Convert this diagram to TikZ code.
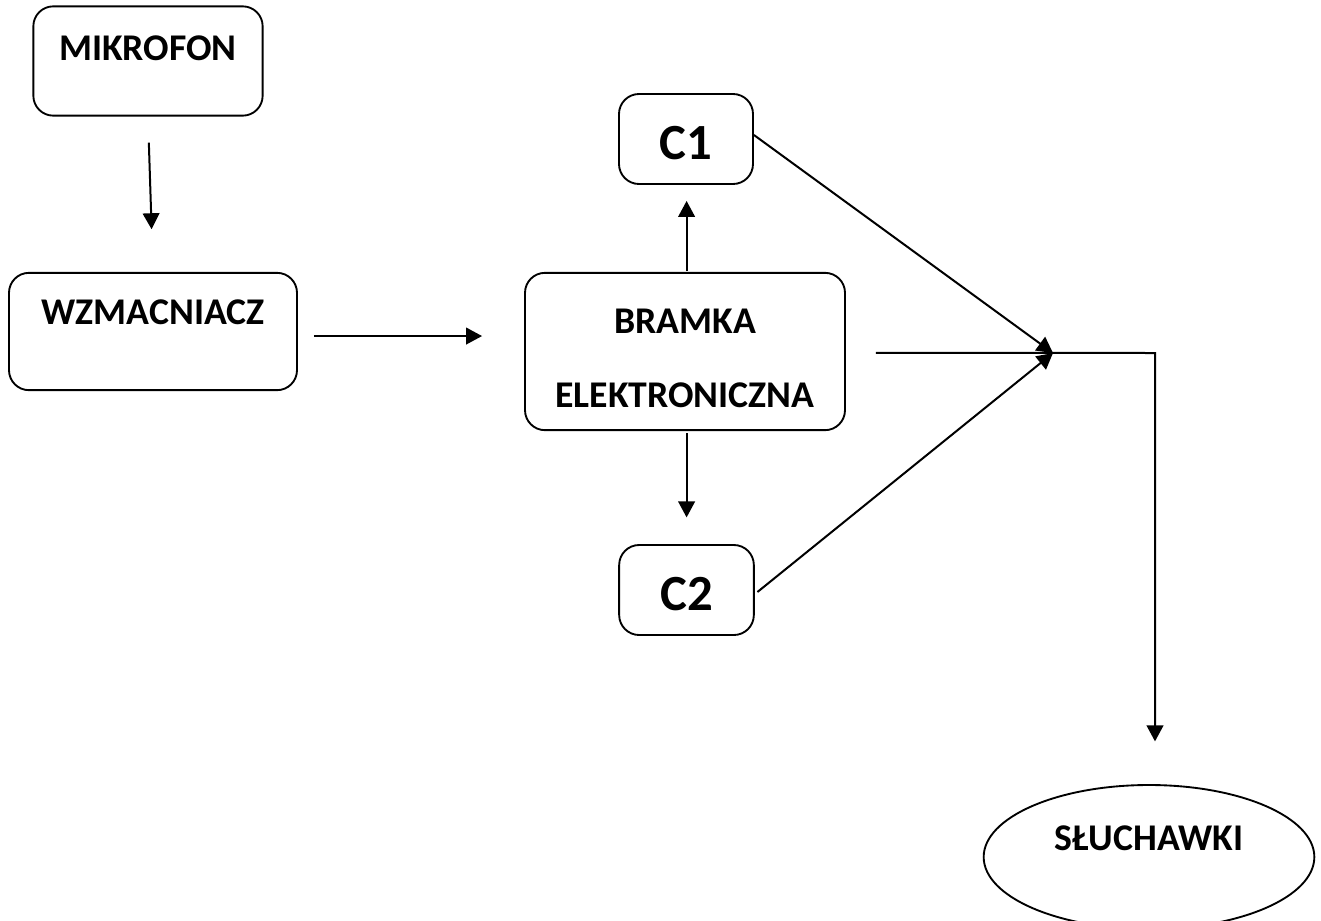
\documentclass[tikz,border=0pt]{standalone}
\usepackage{fontspec}
\setmainfont{Carlito}
\usetikzlibrary{arrows.meta,shapes.geometric}
\tikzset{
  box/.style={draw, line width=1.4pt, rounded corners=15pt, inner sep=0pt},
  oval/.style={draw, ellipse, line width=1.4pt, inner sep=0pt},
  lbl/.style={font=\bfseries\fontsize{28.3}{33}\selectfont, inner sep=0pt},
  biglbl/.style={font=\bfseries\fontsize{38}{44}\selectfont, inner sep=0pt},
  conn/.style={line width=1.5pt},
  arr/.style={conn, -{Triangle[width=12.5pt,length=12pt]}},
}
\begin{document}
\begin{tikzpicture}[x=0.75pt,y=-0.75pt]
\useasboundingbox (0,0) rectangle (1321,921);
% boxes
\node[box, minimum width=172pt, minimum height=82pt] (mik) at (148,61) {};
\node[lbl] (mikt) at (148,48) {MIKROFON};
\node[box, minimum width=216pt, minimum height=88pt] (wzm) at (153,331.5) {};
\node[lbl] (wzmt) at (153,312) {WZMACNIACZ};
\node[box, minimum width=240pt, minimum height=118pt] (br) at (685,351.5) {};
\node[lbl] (brt1) at (685,321) {BRAMKA};
\node[lbl] (brt2) at (685,395) {ELEKTRONICZNA};
\node[box, minimum width=100.5pt, minimum height=67.5pt] (c1) at (686,139) {};
\node[biglbl] (c1t) at (686,143) {C1};
\node[box, minimum width=101pt, minimum height=67.5pt] (c2) at (686.5,590) {};
\node[biglbl] (c2t) at (686.5,594) {C2};
\node[oval, minimum width=248pt, minimum height=108pt] (sl) at (1149,857) {};
\node[lbl] (slt) at (1149,838) {SŁUCHAWKI};
\coordinate (J) at (1053,353);
\coordinate (K) at (1155,353);
% connectors
\draw[arr, shorten <=19.5pt, shorten >=32pt] (mik.south) -- (wzm.north);
\draw[arr, shorten <=12pt, shorten >=31.5pt] ([yshift=-3.4pt]wzm.east) coordinate (ws) -- (ws -| br.west);
\draw[arr, shorten <=1pt, shorten >=12pt] ([xshift=1.2pt]br.north) coordinate (bn) -- (bn |- c1.south);
\draw[arr, shorten <=1.5pt, shorten >=20pt] ([xshift=1.2pt]br.south) coordinate (bs) -- (bs |- c2.north);
\draw[arr] ([yshift=3pt]c1.east) -- (J);
\draw[arr] ([xshift=2pt,yshift=-1.5pt]c2.east) -- (J);
\draw[arr, shorten <=22.5pt, shorten >=32pt] ([yshift=-1pt]br.east) -- (K) -- (sl.north -| K);
\end{tikzpicture}
\end{document}
